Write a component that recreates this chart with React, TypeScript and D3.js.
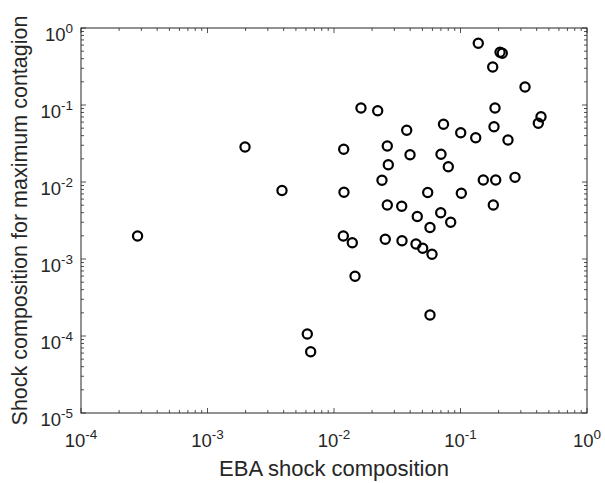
import React from "react";
import * as d3 from "d3";

const xValues = [
  2.8e-4, 0.00198, 0.00388, 0.00615, 0.00654, 0.01634, 0.02215, 0.01193, 0.01199, 0.01185,
  0.01395, 0.01466, 0.03756, 0.02638, 0.0399, 0.02687, 0.02395, 0.02638, 0.0343, 0.02543,
  0.03448, 0.04447, 0.05025, 0.05952, 0.05739, 0.04554, 0.05505, 0.06975, 0.08366, 0.05739,
  0.07339, 0.07012, 0.08009, 0.1015, 0.1004, 0.1319, 0.1382, 0.2053, 0.214, 0.1797,
  0.3236, 0.1874, 0.184, 0.2374, 0.4329, 0.4121, 0.1514, 0.1898, 0.2697, 0.1817,
];
const yValues = [
  0.00199, 0.02848, 0.00776, 1.06e-4, 6.25e-5, 0.0914, 0.0843, 0.02659, 0.00735, 0.00199,
  0.001628, 5.96e-4, 0.0469, 0.02935, 0.02262, 0.01678, 0.01052, 0.00503, 0.004835, 0.001802,
  0.001729, 0.001566, 0.001377, 0.001151, 1.874e-4, 0.003565, 0.007305, 0.003994, 0.003005, 0.002565,
  0.05616, 0.02296, 0.0158, 0.00713, 0.04368, 0.03761, 0.6329, 0.4835, 0.4692, 0.3114,
  0.1713, 0.0914, 0.05225, 0.0351, 0.07048, 0.05786, 0.01062, 0.01062, 0.0115, 0.00503,
];
const xTickExps = [-4, -3, -2, -1, 0];
const yTickExps = [-5, -4, -3, -2, -1, 0];
const xLabel = "EBA shock composition";
const yLabel = "Shock composition for maximum contagion";

const W = 605;
const H = 483;
const m = { left: 81, right: 18, top: 28, bottom: 70 };

export default function App() {
  const x = d3.scaleLog().domain([1e-4, 1]).range([m.left, W - m.right]);
  const y = d3.scaleLog().domain([1e-5, 1]).range([H - m.bottom, m.top]);
  const x0 = m.left, x1 = W - m.right, y0 = H - m.bottom, y1 = m.top;
  const axisColor = "#262626";
  const font = "'Liberation Sans', Arial, Helvetica, sans-serif";

  const minor = (exps: number[]) => {
    const out: number[] = [];
    for (let i = 0; i < exps.length - 1; i++) {
      for (let k = 2; k <= 9; k++) out.push(k * Math.pow(10, exps[i]));
    }
    return out;
  };
  const xMinor = minor(xTickExps);
  const yMinor = minor(yTickExps);
  const majLen = 5, minLen = 3;

  return (
    <svg width={W} height={H} style={{ position: "absolute", left: 0, top: 0, background: "#fff" }} fontFamily={font}>
      <rect x={0} y={0} width={W} height={H} fill="#fff" />
      <g stroke={axisColor} strokeWidth={0.8} fill="none">
        {xTickExps.map((e) => {
          const px = x(Math.pow(10, e));
          return (
            <g key={"xt" + e}>
              <line x1={px} x2={px} y1={y0} y2={y0 - majLen} />
              <line x1={px} x2={px} y1={y1} y2={y1 + majLen} />
            </g>
          );
        })}
        {xMinor.map((v, i) => {
          const px = x(v);
          return (
            <g key={"xm" + i}>
              <line x1={px} x2={px} y1={y0} y2={y0 - minLen} />
              <line x1={px} x2={px} y1={y1} y2={y1 + minLen} />
            </g>
          );
        })}
        {yTickExps.map((e) => {
          const py = y(Math.pow(10, e));
          return (
            <g key={"yt" + e}>
              <line x1={x0} x2={x0 + majLen} y1={py} y2={py} />
              <line x1={x1} x2={x1 - majLen} y1={py} y2={py} />
            </g>
          );
        })}
        {yMinor.map((v, i) => {
          const py = y(v);
          return (
            <g key={"ym" + i}>
              <line x1={x0} x2={x0 + minLen} y1={py} y2={py} />
              <line x1={x1} x2={x1 - minLen} y1={py} y2={py} />
            </g>
          );
        })}
        <rect x={x0} y={y1} width={x1 - x0} height={y0 - y1} strokeWidth={1} />
      </g>
      <g fill={axisColor}>
        {xTickExps.map((e) => (
          <text key={"xl" + e} x={x(Math.pow(10, e))} y={y0 + 34} textAnchor="middle" fontSize={18.5}>
            <tspan>10</tspan>
            <tspan dy={-8} fontSize={13.5}>{String(e)}</tspan>
          </text>
        ))}
        {yTickExps.map((e) => (
          <text key={"yl" + e} x={x0 - 8} y={y(Math.pow(10, e)) + 12.5} textAnchor="end" fontSize={18.5}>
            <tspan>10</tspan>
            <tspan dy={-8} fontSize={13.5}>{String(e)}</tspan>
          </text>
        ))}
      </g>
      <text x={(x0 + x1) / 2} y={476} textAnchor="middle" fontSize={22} fill={axisColor}>
        {xLabel}
      </text>
      <text
        transform={`translate(27, ${(y0 + y1) / 2}) rotate(-90)`}
        textAnchor="middle"
        fontSize={21.5}
        fill={axisColor}
      >
        {yLabel}
      </text>
      <g fill="none" stroke="#000" strokeWidth={2.2}>
        {xValues.map((v, i) => (
          <circle key={"p" + i} cx={x(v)} cy={y(yValues[i])} r={4.6} />
        ))}
      </g>
    </svg>
  );
}
